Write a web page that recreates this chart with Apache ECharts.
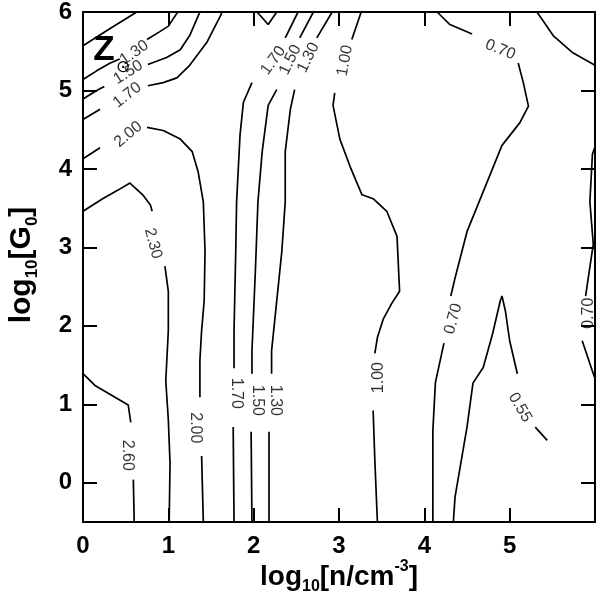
<!DOCTYPE html>
<html><head><meta charset="utf-8">
<script src="https://cdn.jsdelivr.net/npm/echarts@6/dist/echarts.min.js"></script>
<style>html,body{margin:0;padding:0;background:#fff}#c{width:600px;height:595px}</style>
</head><body><div id="c"></div>
<script>
// ---- data (x = log10 n, y = log10 G0) ----
const xTickLabels = [0,1,2,3,4,5];
const yTickLabels = [0,1,2,3,4,5,6];
const yTickMarks = [0,1,2,3,4,5];

const c_corner = [[0,5.57],[0.29,5.77],[0.63,6.0]];
const c130_a = [[0,5.14],[0.16,5.25],[0.32,5.35],[0.43,5.40]];
const c130_b = [[0.75,5.65],[0.90,5.75],[1.0,5.82],[1.11,6.0]];
const c150_a = [[0,4.89],[0.16,5.0],[0.25,5.05]];
const c150_b = [[0.76,5.33],[0.98,5.42],[1.14,5.52],[1.25,5.70],[1.35,5.95],[1.37,6.0]];
const c170_a = [[0,4.63],[0.2,4.76]];
const c170_b = [[0.76,5.06],[0.94,5.10],[1.10,5.16],[1.25,5.32],[1.45,5.61],[1.61,5.95],[1.63,6.0]];
const c200_a = [[0,4.13],[0.2,4.27]];
const c200_b = [[0.75,4.53],[0.94,4.49],[1.14,4.38],[1.28,4.22],[1.35,3.96],[1.41,3.58],[1.43,2.95],[1.42,2.32],[1.39,1.94],[1.37,1.56],[1.37,1.09]];
const c200_c = [[1.39,0.34],[1.41,-0.5]];
const c230_a = [[0,3.46],[0.23,3.62],[0.41,3.73],[0.55,3.82],[0.70,3.67],[0.79,3.54],[0.81,3.46]];
const c230_b = [[0.96,2.76],[1.0,2.44],[1.0,1.94],[0.97,1.30],[1.0,0.80],[1.02,0.25],[1.01,-0.5]];
const c260_a = [[0,1.39],[0.14,1.24],[0.53,0.99],[0.56,0.77]];
const c260_b = [[0.59,0.04],[0.60,-0.5]];
const c170m_a = [[2.52,6.0],[2.37,5.67]];
const c170m_b = [[1.98,5.10],[1.88,4.85],[1.84,4.43],[1.80,3.58],[1.79,2.95],[1.77,1.94],[1.77,1.46]];
const c170m_c = [[1.76,0.71],[1.77,-0.5]];
const c150m_a = [[2.70,6.0],[2.54,5.67]];
const c150m_b = [[2.27,5.01],[2.17,4.81],[2.10,4.22],[2.05,3.58],[2.02,2.70],[1.98,1.68],[1.98,1.39]];
const c150m_c = [[1.97,0.65],[1.98,-0.5]];
const c130m_a = [[2.92,6.0],[2.74,5.67]];
const c130m_b = [[2.48,5.01],[2.43,4.76],[2.37,4.22],[2.37,3.58],[2.33,2.95],[2.21,1.68],[2.21,1.39]];
const c130m_c = [[2.18,0.65],[2.18,-0.5]];
const c_v = [[2.04,6.0],[2.17,5.84],[2.27,6.0]];
const c100_a = [[3.26,6.0],[3.15,5.65]];
const c100_b = [[2.95,4.97],[2.93,4.81],[3.01,4.38],[3.13,4.03],[3.27,3.67],[3.40,3.62],[3.56,3.46],[3.68,3.14],[3.71,2.44],[3.62,2.29],[3.52,2.09],[3.45,1.85],[3.42,1.65]];
const c100_c = [[3.40,0.92],[3.42,0.29],[3.45,-0.5]];
const c070_a = [[4.15,6.0],[4.30,5.84],[4.56,5.72]];
const c070_b = [[5.10,5.35],[5.16,5.10],[5.22,4.80],[5.12,4.59],[4.91,4.30],[4.69,3.71],[4.50,3.20],[4.36,2.61],[4.31,2.38]];
const c070_c = [[4.23,1.78],[4.13,1.28],[4.10,0.67],[4.10,-0.5]];
const c055_a = [[4.34,-0.5],[4.36,-0.18],[4.50,0.71],[4.57,1.27],[4.69,1.47],[4.80,1.90],[4.89,2.32],[4.91,2.38],[4.95,2.19],[5.00,1.81],[5.09,1.39]];
const c055_b = [[5.30,0.71],[5.44,0.54]];
const c_topright = [[5.32,6.0],[5.51,5.70],[5.74,5.48],[6.0,5.32]];
const c070r_a = [[6.0,4.28],[5.97,4.19],[5.94,3.58],[5.98,3.04],[5.91,2.53],[5.89,2.38]];
const c070r_b = [[5.85,1.81],[5.98,1.39],[6.0,1.33]];

const contourSegments = [c_corner,c130_a,c130_b,c150_a,c150_b,c170_a,c170_b,c200_a,c200_b,c200_c,
  c230_a,c230_b,c260_a,c260_b,c170m_a,c170m_b,c170m_c,c150m_a,c150m_b,c150m_c,c130m_a,c130m_b,c130m_c,
  c_v,c100_a,c100_b,c100_c,c070_a,c070_b,c070_c,c055_a,c055_b,c_topright,c070r_a,c070r_b];

const labelText = ['1.30','1.50','1.70','2.00','2.30','2.60','2.00','1.70','1.50','1.30','1.70','1.50','1.30','1.00','1.00','0.70','0.70','0.55','0.70'];
const labelAt = [[0.60,5.48],[0.53,5.23],[0.52,4.94],[0.53,4.44],[0.82,3.05],[0.52,0.35],[1.32,0.70],
  [2.23,5.38],[2.43,5.39],[2.64,5.42],[1.80,1.14],[2.04,1.05],[2.25,1.05],[3.07,5.38],[3.46,1.34],
  [4.89,5.52],[4.34,2.09],[5.12,0.96],[5.93,2.16]];
// label orientation (degrees, counter-clockwise)
const labelAngle = [35,32,38,40,-75,-90,-90,54,64,64,-90,-90,-90,80,90,-22,75,-60,90];

// ---- chart ----
const chart = echarts.init(document.getElementById('c'), null, {renderer:'canvas'});
const FONT = '"Liberation Sans", Arial, Helvetica, sans-serif';
const axisCommon = {
  axisLine:{show:true, onZero:false, lineStyle:{color:'#000', width:2}},
  axisTick:{show:true, inside:true, length:14, lineStyle:{color:'#000', width:2}},
  splitLine:{show:false}
};
const series = contourSegments.map(seg => ({
  type:'line', data:seg, showSymbol:false, symbol:'none', silent:true, animation:false,
  lineStyle:{color:'#000', width:1.7}, z:3
}));
series.push({
  type:'scatter', symbolSize:0, silent:true, animation:false, z:4,
  data: labelText.map((t,i)=>({name:t, value:labelAt[i], label:{rotate:labelAngle[i]}})),
  label:{show:true, position:'inside', formatter:p=>p.name, color:'#000', fontSize:16, fontFamily:FONT}
});
function richSet(main, sub){
  return {
    b:{fontSize:main, fontWeight:'bold', fontFamily:FONT, color:'#000', lineHeight:main+8},
    s:{fontSize:sub, fontWeight:'bold', fontFamily:FONT, color:'#000', lineHeight:sub-2, verticalAlign:'bottom'},
    p:{fontSize:sub, fontWeight:'bold', fontFamily:FONT, color:'#000', lineHeight:sub-2, verticalAlign:'top'}
  };
}
chart.setOption({
  animation:false,
  backgroundColor:'#fff',
  grid:{left:83, right:5, top:9, bottom:73, containLabel:false},
  xAxis:[
    Object.assign({type:'value', min:0, max:6, interval:1, position:'bottom',
      axisLabel:{show:true, margin:12, color:'#000', fontSize:24, fontWeight:'bold', fontFamily:FONT,
        formatter:v => xTickLabels.includes(v) ? String(v) : ''}}, axisCommon),
    Object.assign({type:'value', min:0, max:6, interval:1, position:'top', axisLabel:{show:false}}, axisCommon)
  ],
  yAxis:[
    Object.assign({type:'value', min:-0.5, max:6, position:'left',
      axisLabel:{show:true, margin:11, color:'#000', fontSize:24, fontWeight:'bold', fontFamily:FONT, customValues:yTickLabels},
    }, axisCommon, {axisTick:{show:true, inside:true, length:14, customValues:yTickMarks, lineStyle:{color:'#000', width:2}}}),
    Object.assign({type:'value', min:-0.5, max:6, position:'right', axisLabel:{show:false}},
      axisCommon, {axisTick:{show:true, inside:true, length:14, customValues:yTickMarks, lineStyle:{color:'#000', width:2}}})
  ],
  series: series,
  graphic:[
    {type:'text', x:339, y:577, silent:true, style:{text:'{b|log}{s|10}{b|[n/cm}{p|-3}{b|]}', rich:richSet(28,16), align:'center', verticalAlign:'middle'}},
    {type:'text', x:22, y:265, rotation:Math.PI/2, silent:true, style:{text:'{b|log}{s|10}{b|[G}{s|0}{b|]}', rich:richSet(30,17), align:'center', verticalAlign:'middle'}},
    {type:'text', x:104, y:50, silent:true, z:10, style:{text:'Z', fontSize:35, fontWeight:'bold', fontFamily:FONT, fill:'#000', align:'center', verticalAlign:'middle'}},
    {type:'text', x:123, y:68, silent:true, z:10, style:{text:'⊙', fontSize:17, fontFamily:'"DejaVu Sans", sans-serif', fill:'#000', align:'center', verticalAlign:'middle'}}
  ]
});
</script></body></html>
